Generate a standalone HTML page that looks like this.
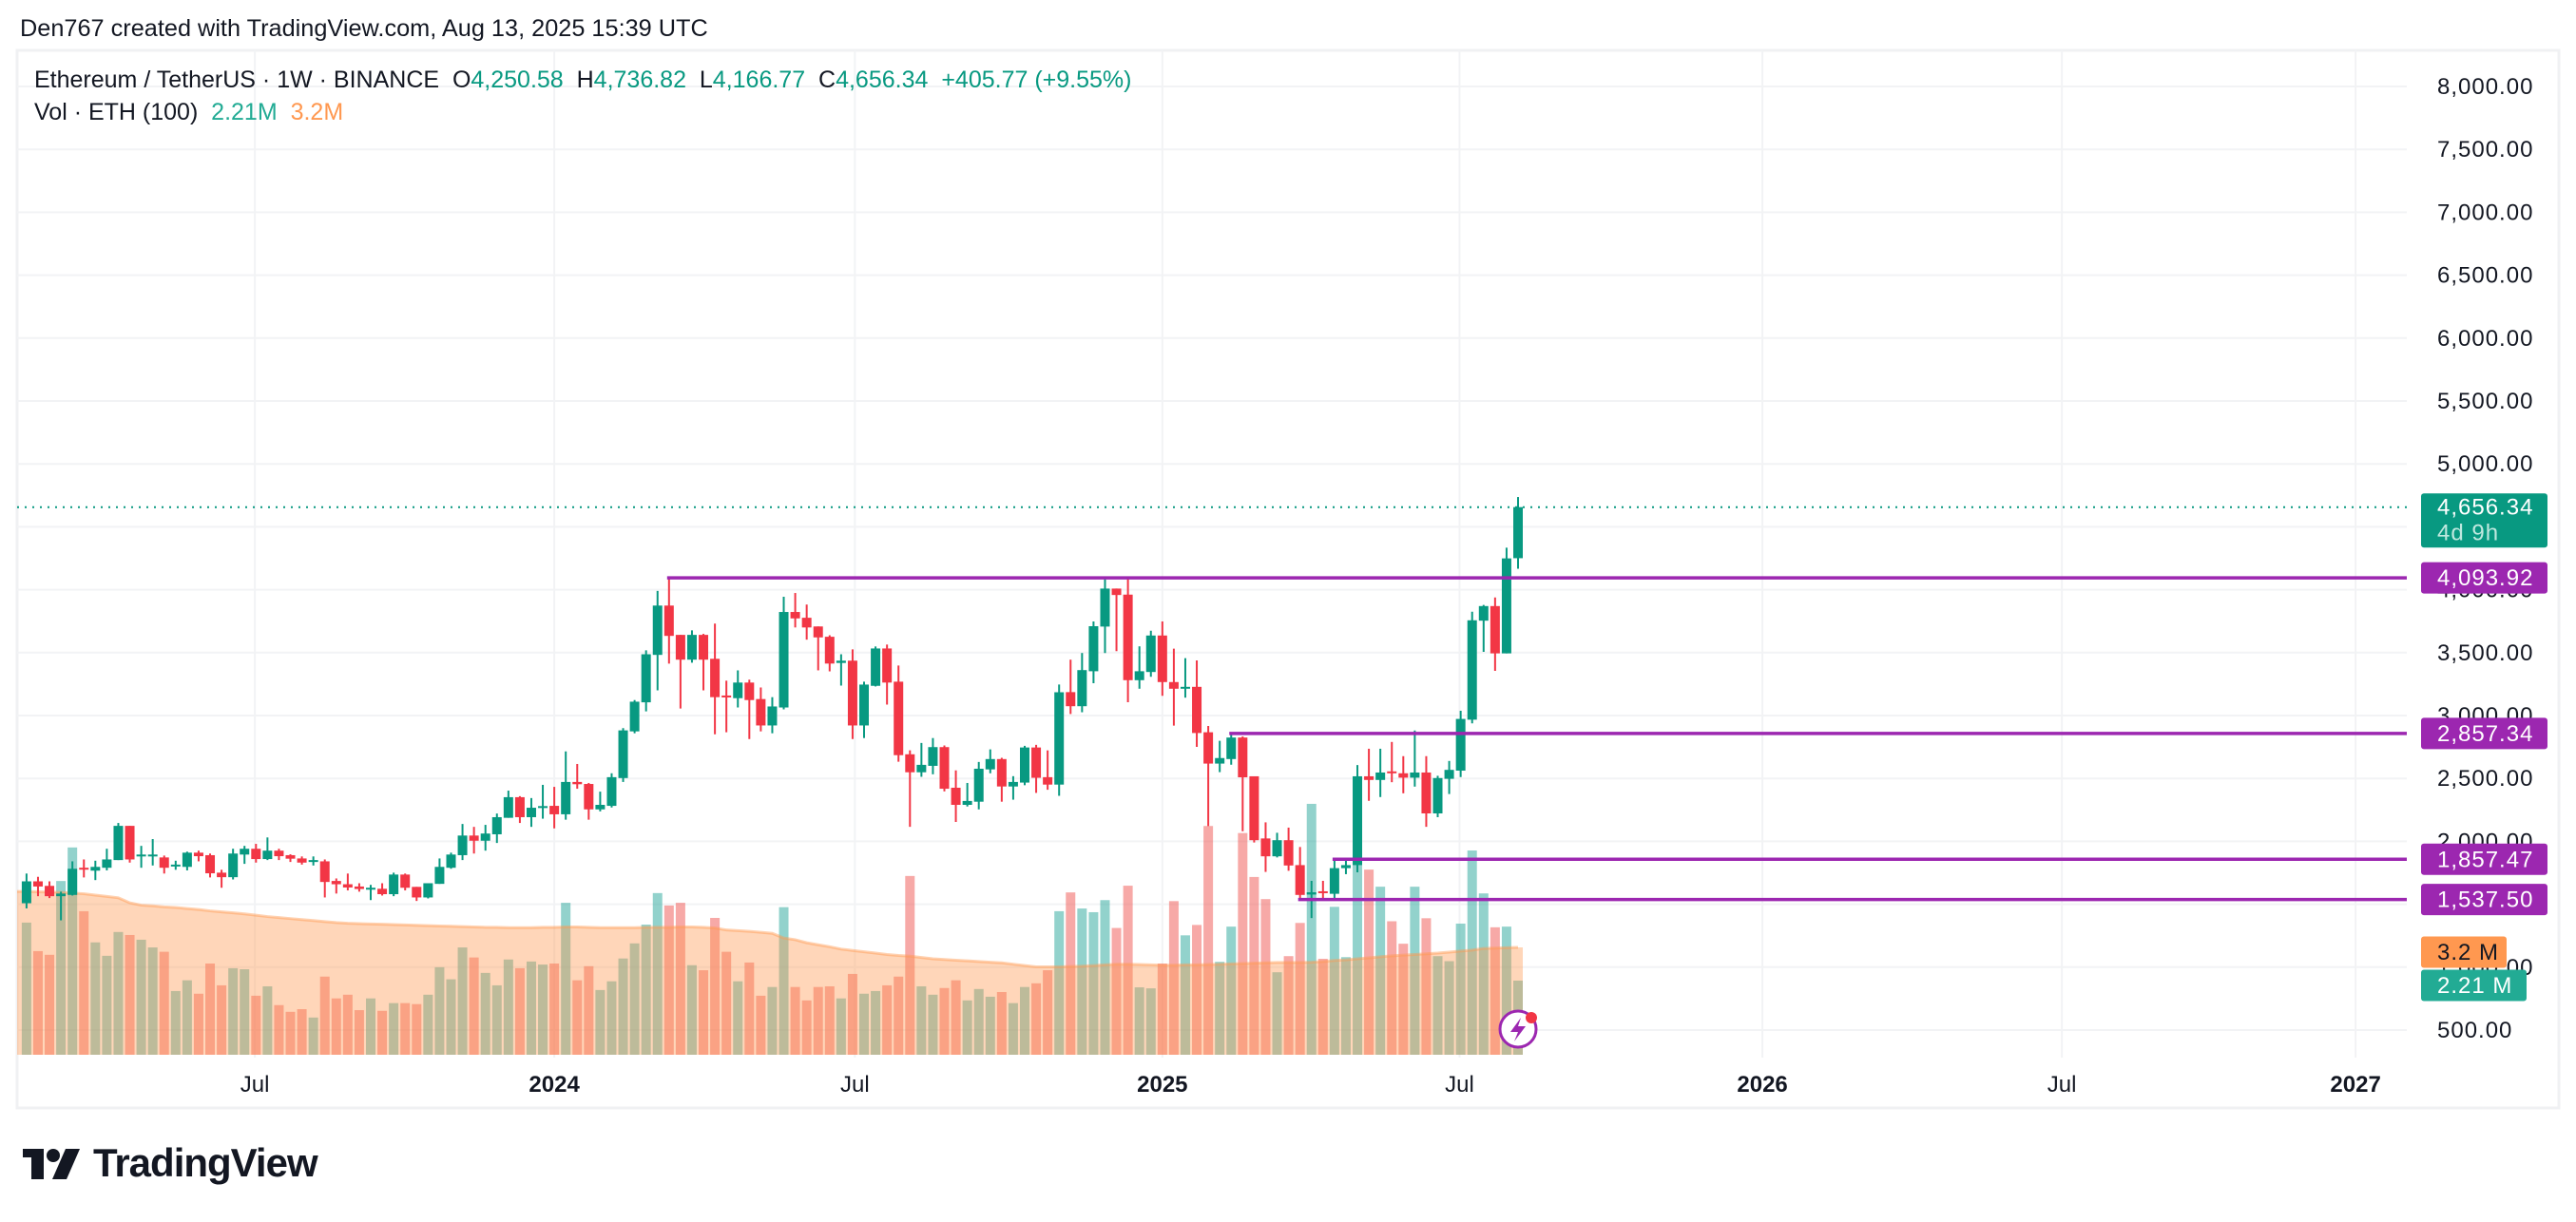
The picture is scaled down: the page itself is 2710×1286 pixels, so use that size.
<!DOCTYPE html>
<html><head><meta charset="utf-8">
<style>
html,body{margin:0;padding:0;background:#fff;}
body{width:2710px;height:1286px;position:relative;overflow:hidden;font-family:"Liberation Sans",sans-serif;color:#131722;}
.abs{position:absolute;white-space:nowrap;}
</style></head>
<body>
<div class="abs" style="left:21px;top:16px;font-size:25.3px;">Den767 created with TradingView.com, Aug 13, 2025 15:39 UTC</div>
<svg id="chart" width="2710" height="1286" style="position:absolute;left:0;top:0;"></svg>
<div class="abs" style="left:36px;top:70px;font-size:25px;">Ethereum / TetherUS · 1W · BINANCE&nbsp; O<span style="color:#089981">4,250.58</span>&nbsp; H<span style="color:#089981">4,736.82</span>&nbsp; L<span style="color:#089981">4,166.77</span>&nbsp; C<span style="color:#089981">4,656.34</span>&nbsp; <span style="color:#089981">+405.77 (+9.55%)</span></div>
<div class="abs" style="left:36px;top:104px;font-size:25px;">Vol · ETH (100)&nbsp; <span style="color:#22ab94">2.21M</span>&nbsp; <span style="color:#ff9850">3.2M</span></div>
<div class="abs" style="left:24px;top:1203px;height:44px;">
  <svg width="62" height="32" style="position:absolute;left:0;top:6px"><rect x="0" y="0" width="22" height="9" fill="#131722"/><rect x="9" y="0" width="13" height="32" fill="#131722"/><circle cx="32" cy="7" r="7" fill="#131722"/><polygon points="45,0 60,0 46,32 31,32" fill="#131722"/></svg>
  <span style="position:absolute;left:74px;top:-3px;font-size:42px;font-weight:bold;letter-spacing:-1px;color:#131722;">TradingView</span>
</div>
<script>
const opens=[1508,1682,1646,1564,1574,1790,1767,1790,1851,2123,1882,1882,1872,1800,1797,1910,1890,1751,1715,1895,1941,1859,1926,1890,1864,1838,1841,1685,1659,1641,1621,1623,1580,1736,1638,1554,1662,1790,1890,2046,2005,2056,2187,2351,2192,
2265,2282,2215,2472,2456,2254,2282,2503,2874,3105,3482,3874,3641,3444,3641,3451,3159,3138,3262,3131,2921,3064,3823,3777,3708,3626,3418,3436,2921,3236,3533,3269,2692,2549,2600,2749,2426,2290,2315,2572,2654,2436,2467,2746,2510,2451,
3186,3074,3352,3707,4009,3961,3281,3346,3636,3266,3213,3228,2867,2618,2654,2825,2517,2023,1881,2009,1811,1577,1603,1583,1787,1811,2517,2488,2556,2541,2506,2547,2222,2497,2562,2967,3754,3870,3494,4250.58];
const highs=[1744,1718,1682,1600,1841,1856,1846,1941,2146,2123,1964,2018,1887,1846,1918,1926,1903,1774,1941,1964,1980,2031,1941,1897,1880,1880,1856,1705,1744,1667,1654,1667,1751,1744,1638,1667,1864,1910,2138,2115,2131,2221,2403,2359,2344,
2449,2433,2715,2615,2464,2395,2541,2900,3123,3518,3990,4094,3641,3677,3649,3731,3277,3359,3285,3223,3146,3944,3974,3882,3708,3638,3487,3526,3269,3549,3564,3397,2723,2782,2821,2762,2564,2464,2631,2731,2664,2518,2759,2767,2723,3246,
3444,3497,3748,4092,4009,4104,3550,3674,3748,3532,3456,3438,2917,2799,2861,2834,2517,2151,2068,2109,1955,1686,1686,1858,1864,2606,2736,2736,2790,2677,2881,2677,2521,2639,3038,3825,3879,3938,4334,4736.82];
const lows=[1467,1564,1549,1372,1569,1713,1692,1769,1851,1831,1790,1808,1744,1774,1769,1841,1713,1631,1697,1821,1831,1851,1851,1836,1815,1808,1554,1585,1610,1600,1533,1569,1564,1610,1526,1546,1662,1782,1851,1903,1926,1987,2187,2146,2115,
2180,2103,2172,2418,2172,2238,2269,2472,2859,3033,3200,3413,3056,3420,3200,2851,2867,3064,2813,2874,2859,3049,3700,3603,3359,3351,3238,2813,2821,3231,3087,2633,2115,2513,2533,2397,2154,2277,2254,2541,2315,2331,2446,2385,2410,2362,
3012,3026,3257,3497,3512,3106,3213,3308,3157,2920,3142,2751,2121,2550,2609,2080,1991,1757,1872,1766,1538,1390,1547,1547,1739,1754,2322,2352,2470,2382,2435,2115,2192,2376,2511,2938,3506,3355,3494,4166.77];
const closes=[1682,1641,1564,1585,1782,1777,1797,1856,2123,1856,1895,1895,1790,1815,1910,1882,1746,1715,1903,1941,1859,1926,1882,1862,1831,1851,1677,1659,1633,1621,1631,1580,1736,1631,1554,1667,1797,1895,2046,2005,2062,2192,2351,2192,2267,
2280,2215,2472,2454,2254,2290,2510,2882,3110,3487,3874,3633,3444,3641,3444,3146,3146,3262,3123,2921,3072,3823,3772,3700,3621,3413,3436,2921,3246,3533,3262,2685,2549,2608,2749,2418,2290,2321,2577,2654,2436,2472,2746,2505,2451,3185,
3074,3361,3710,4009,3958,3281,3352,3636,3266,3213,3228,2861,2618,2662,2825,2509,2009,1881,2009,1808,1574,1595,1588,1787,1811,2517,2488,2547,2541,2506,2547,2222,2503,2568,2973,3757,3870,3494,4249,4656.34];
const volumes=[3.94,3.09,2.98,5.18,6.18,4.28,3.35,2.95,3.66,3.57,3.43,3.20,3.07,1.90,2.22,1.82,2.72,2.07,2.58,2.55,1.76,2.04,1.48,1.28,1.36,1.11,2.33,1.68,1.79,1.33,1.68,1.31,1.54,1.54,1.51,1.79,2.61,2.25,3.20,2.90,2.44,2.07,2.84,2.58,2.78,
2.69,2.72,4.53,2.22,2.64,1.93,2.19,2.87,3.32,3.88,4.82,4.45,4.53,2.67,2.52,4.08,3.07,2.19,2.75,1.76,2.02,4.40,2.02,1.62,2.02,2.04,1.68,2.41,1.82,1.90,2.07,2.33,5.33,2.04,1.79,1.99,2.22,1.62,1.96,1.73,1.87,1.54,2.02,2.13,2.52,4.28,
4.84,4.36,4.25,4.61,3.78,5.04,2.01,1.98,2.72,4.58,3.56,3.87,6.82,2.77,3.82,6.61,5.30,4.64,2.46,2.94,3.93,7.48,2.86,4.41,2.91,5.66,5.52,5.01,3.98,3.31,5.01,4.07,2.94,2.79,3.91,6.09,4.81,3.80,3.82,2.21];
const volMA=[4.87,4.86,4.85,4.84,4.82,4.80,4.76,4.72,4.68,4.53,4.46,4.44,4.41,4.39,4.36,4.33,4.29,4.26,4.23,4.20,4.16,4.12,4.09,4.06,4.03,4.00,3.97,3.94,3.92,3.91,3.90,3.89,3.88,3.87,3.86,3.85,3.84,3.83,3.82,3.81,3.80,3.80,3.79,3.79,3.79,
3.80,3.80,3.81,3.81,3.80,3.79,3.79,3.79,3.79,3.80,3.80,3.80,3.81,3.81,3.80,3.78,3.72,3.70,3.68,3.65,3.62,3.48,3.43,3.34,3.28,3.22,3.15,3.11,3.07,3.03,2.99,2.96,2.94,2.90,2.86,2.84,2.82,2.80,2.78,2.76,2.74,2.70,2.66,2.62,2.62,2.62,
2.63,2.64,2.66,2.68,2.70,2.70,2.69,2.68,2.67,2.67,2.68,2.68,2.69,2.70,2.71,2.72,2.73,2.74,2.75,2.75,2.75,2.76,2.78,2.81,2.83,2.86,2.89,2.92,2.95,2.97,2.99,3.01,3.03,3.06,3.09,3.12,3.17,3.18,3.19,3.20];
const priceTicks=[500,1000,1500,2000,2500,3000,3500,4000,4500,5000,5500,6000,6500,7000,7500,8000];
const timeLabels=["Jul","2024","Jul","2025","Jul","2026","Jul","2027"];
const timeWeeks=[19.9,46.0,72.2,99.0,124.9,151.3,177.4,203.0];
const levelValues=[4093.92,2857.34,1857.47,1537.50];
const levelStart=[56,105,114,111];
const lastPrice=4656.34;

const NS="http://www.w3.org/2000/svg";
const svg=document.getElementById('chart');
const PL=18,PR=2532,PT=53,PB=1113;
function xOf(i){return 27.9+i*12.07;}
function yOf(v){return 91+(8000-v)*0.1324;}
function vY(m){return 1110-m*35.3;}
function el(tag,attrs,parent){const e=document.createElementNS(NS,tag);for(const k in attrs)e.setAttribute(k,attrs[k]);(parent||svg).appendChild(e);return e;}
let f=el('rect',{x:PL,y:PT,width:2692-PL,height:1166-PT,fill:'none',stroke:'#f0f1f3','stroke-width':3});


priceTicks.forEach(v=>{const l=el('line',{x1:PL,x2:PR,y1:yOf(v),y2:yOf(v),stroke:'#f2f3f5','stroke-width':2});

});
timeWeeks.forEach(w=>{const l=el('line',{x1:xOf(w),x2:xOf(w),y1:PT,y2:PB,stroke:'#f2f3f5','stroke-width':2});

});
volumes.forEach((v,i)=>{const up=closes[i]>=opens[i];
const r=el('rect',{x:xOf(i)-5,y:vY(v),width:10,height:1110-vY(v),fill:up?'rgba(38,166,154,0.5)':'rgba(239,83,80,0.5)'});

});
let d='M'+PL+' 1110 L'+PL+' '+vY(volMA[0]);
volMA.forEach((v,i)=>{d+=' L'+xOf(i)+' '+vY(v);});
d+=' L'+(xOf(volMA.length-1)+5)+' '+vY(volMA[volMA.length-1])+' L'+(xOf(volMA.length-1)+5)+' 1110 Z';
const area=el('path',{d:d,fill:'rgba(255,152,80,0.4)'});


let ld='M'+PL+' '+vY(volMA[0]);volMA.forEach((v,i)=>{ld+=' L'+xOf(i)+' '+vY(v);});
const mal=el('path',{d:ld,fill:'none',stroke:'rgba(255,152,80,0.45)','stroke-width':3});


const lp=el('line',{x1:PL,x2:PR,y1:yOf(lastPrice),y2:yOf(lastPrice),stroke:'#089981','stroke-width':2,'stroke-dasharray':'2 6'});


opens.forEach((o,i)=>{const c=closes[i],up=c>=o,col=up?'#089981':'#f23645',x=xOf(i);
const g=el('g',{});


el('line',{x1:x,x2:x,y1:yOf(highs[i]),y2:yOf(lows[i]),stroke:col,'stroke-width':2},g);
const top=yOf(Math.max(o,c)),h=Math.max(2,Math.abs(yOf(o)-yOf(c)));
el('rect',{x:x-5,y:top,width:10,height:h,fill:col},g);});
levelValues.forEach((v,k)=>{const l=el('line',{x1:xOf(levelStart[k])-2,x2:PR,y1:yOf(v),y2:yOf(v),stroke:'#9c27b0','stroke-width':3.5});

});
priceTicks.forEach(v=>{const t=el('text',{x:2564,y:yOf(v)+8,'font-size':24,fill:'#131722','font-family':'Liberation Sans, sans-serif','letter-spacing':'1'});
t.textContent=v.toLocaleString('en-US',{minimumFractionDigits:2});

});
timeLabels.forEach((s,k)=>{const t=el('text',{x:xOf(timeWeeks[k]),y:1149,'font-size':24,'text-anchor':'middle',fill:'#131722','font-weight':s.length===4?'bold':'normal','font-family':'Liberation Sans, sans-serif'});
t.textContent=s;

});
function badge(y,h,w,fill,txt,txtCol,name,ty){const g=el('g',{});


el('rect',{x:2547,y:y-h/2,width:w,height:h,rx:3,fill:fill},g);
const t=el('text',{x:2564,y:(ty!==undefined?ty:y+8),'font-size':24,fill:txtCol,'font-family':'Liberation Sans, sans-serif','letter-spacing':'1'},g);t.textContent=txt;return g;}
const lb=badge(yOf(lastPrice)+14,57,133,'#089981','4,656.34','#fff','last-price-badge',yOf(lastPrice)+8);
const t2=el('text',{x:2564,y:yOf(lastPrice)+35,'font-size':24,fill:'#bfe8df','font-family':'Liberation Sans, sans-serif','letter-spacing':'1'},lb);t2.textContent='4d 9h';
levelValues.forEach(v=>{badge(yOf(v),33,133,'#9c27b0',v.toLocaleString('en-US',{minimumFractionDigits:2}),'#fff','level-price-badge');});
badge(1002,33,90,'#ff9850','3.2 M','#131722','volume-ma-badge');
badge(1037,33,111,'#22ab94','2.21 M','#fff','volume-badge');
const li=el('g',{});


el('circle',{cx:1597,cy:1083,r:19,fill:'#fff',stroke:'#9c27b0','stroke-width':3},li);
el('path',{d:'M1600 1071 L1589 1086 L1597 1086 L1593 1096 L1605 1080 L1597 1080 Z',fill:'#9c27b0'},li);
el('circle',{cx:1611,cy:1071,r:6,fill:'#f23645'},li);
</script>
</body></html>
